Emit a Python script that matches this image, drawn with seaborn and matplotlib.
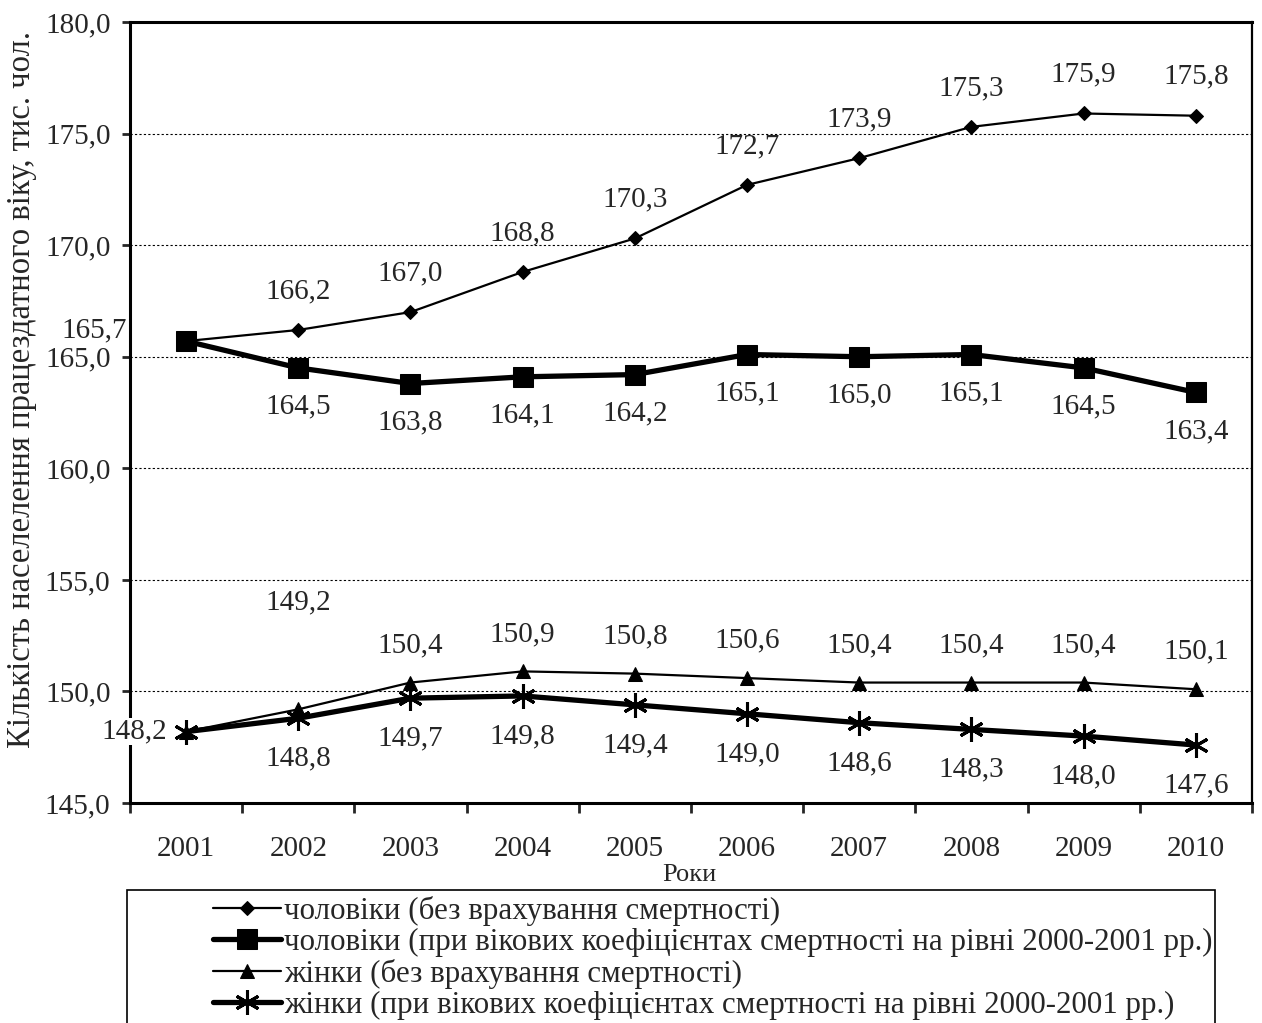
import numpy as np
import pandas as pd
import matplotlib.pyplot as plt
import matplotlib.ticker as mticker
from matplotlib.patches import Rectangle
import seaborn as sns

# data
years = [2001, 2002, 2003, 2004, 2005, 2006, 2007, 2008, 2009, 2010]
men_no_mort = [165.7, 166.2, 167.0, 168.8, 170.3, 172.7, 173.9, 175.3, 175.9, 175.8]
men_mort = [165.7, 164.5, 163.8, 164.1, 164.2, 165.1, 165.0, 165.1, 164.5, 163.4]
women_no_mort = [148.2, 149.2, 150.4, 150.9, 150.8, 150.6, 150.4, 150.4, 150.4, 150.1]
women_mort = [148.2, 148.8, 149.7, 149.8, 149.4, 149.0, 148.6, 148.3, 148.0, 147.6]

series_names = [
    "чоловіки (без врахування смертності)",
    "чоловіки (при вікових коефіцієнтах смертності на рівні 2000-2001 рр.)",
    "жінки (без врахування смертності)",
    "жінки (при вікових коефіцієнтах смертності на рівні 2000-2001 рр.)",
]
y_ticks = [145, 150, 155, 160, 165, 170, 175, 180]
y_tick_labels = ["145,0", "150,0", "155,0", "160,0", "165,0", "170,0", "175,0", "180,0"]

sns.set_style("white")
plt.rcParams["font.family"] = ["Liberation Serif", "DejaVu Serif"]

fig = plt.figure(figsize=(12.62, 10.23), dpi=100)
ax = fig.add_axes([0.103, 0.215, 0.889, 0.7635])

asterisk = (6, 2, 0)
styles = [
    dict(marker="D", markersize=7, linewidth=1.6),
    dict(marker="s", markersize=14, linewidth=3.8),
    dict(marker="^", markersize=10, linewidth=1.6),
    dict(marker=asterisk, markersize=18, linewidth=3.8, markeredgewidth=2.2),
]
all_series = [men_no_mort, men_mort, women_no_mort, women_mort]

for name, vals, st in zip(series_names, all_series, styles):
    sns.lineplot(x=years, y=vals, ax=ax, color="black", label=name,
                 markeredgecolor="black", markerfacecolor="black", **st)

# data labels
def fmt(v):
    return f"{v:.1f}".replace(".", ",")

label_offsets = [(0, 28), (0, -28), (0, 27), (0, -29)]
for i, (vals, off) in enumerate(zip(all_series, label_offsets)):
    for j, (yr, v) in enumerate(zip(years, vals)):
        dx, dy = off
        if j == 0 and i in (1, 3):
            continue  # shared first point, labelled once
        if j == 0 and i == 0:
            dx, dy = -66, 8
        if j == 0 and i == 2:
            dx, dy = -37, 0
        if i == 2 and j == 1:
            dy = 77
        ax.annotate(fmt(v), (yr, v), xytext=(dx, dy), textcoords="offset points",
                    ha="center", va="center", fontsize=21, zorder=5,
                    bbox=dict(facecolor="white", edgecolor="none", pad=0.5) if j == 0 else None,
                    annotation_clip=False)

ax.set_xlim(2000.5, 2010.5)
ax.set_ylim(145, 180)
ax.set_yticks(y_ticks)
ax.yaxis.set_major_formatter(mticker.FixedFormatter(y_tick_labels))
ax.set_xticks(years)
ax.set_xticklabels([str(y) for y in years])
ax.set_xticks(np.arange(2000.5, 2011.0, 1.0), minor=True)
ax.tick_params(axis="x", which="major", length=0, pad=24, labelsize=21)
ax.tick_params(axis="x", which="minor", length=7, width=2, direction="out", bottom=True)
ax.tick_params(axis="y", length=6, width=2, direction="out", left=True, pad=8, labelsize=21)

for y in y_ticks[1:-1]:
    ax.axhline(y, color="black", linestyle=(0, (2, 2)), linewidth=0.8, zorder=0)

for side in ["left", "bottom", "top"]:
    ax.spines[side].set_linewidth(2.2)
    ax.spines[side].set_color("black")
ax.spines["right"].set_linewidth(1.6)
ax.spines["right"].set_color("black")

ax.set_xlabel("Роки", fontsize=19)
ax.xaxis.set_label_coords(0.499, -0.078)
ax.set_ylabel("Кількість населелення працездатного віку, тис. чол.", fontsize=23.5)
ax.yaxis.set_label_coords(-0.083, 0.529)

ax.get_legend().remove()
handles, labels = ax.get_legend_handles_labels()
fig.legend(handles, labels, loc="upper left", bbox_to_anchor=(0.169, 0.124),
           frameon=False, fontsize=22.3, handlelength=2.2, handletextpad=0.08,
           labelspacing=0.06, borderpad=0, borderaxespad=0)

fig.patches.append(Rectangle((0.1006, -0.01), 0.862, 0.14, transform=fig.transFigure,
                             fill=False, edgecolor="black", linewidth=1.2))

fig.savefig("out.png", dpi=100)
